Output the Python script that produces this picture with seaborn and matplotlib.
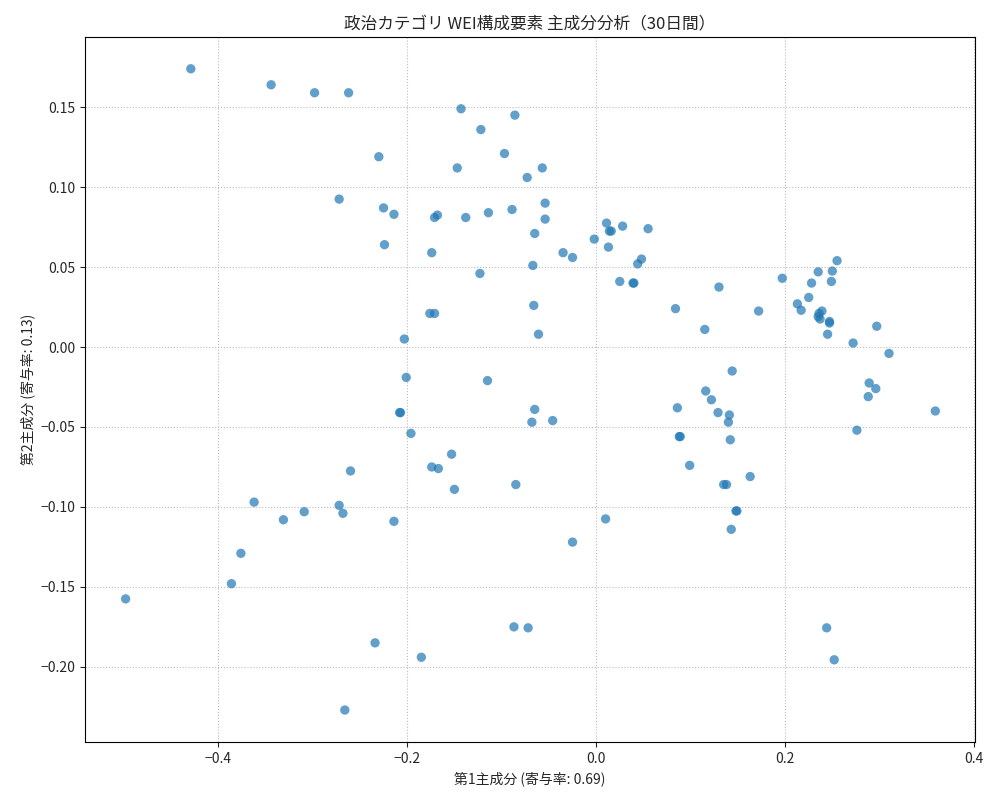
import matplotlib
matplotlib.use("Agg")
import matplotlib.pyplot as plt
import seaborn as sns
import pandas as pd

pc1 = [-0.429,-0.344,-0.298,-0.262,-0.143,-0.086,-0.122,-0.230,-0.097,-0.057,-0.147,-0.073,-0.272,-0.225,-0.214,-0.054,-0.054,-0.089,-0.168,-0.171,-0.138,-0.114,0.011,0.014,0.016,0.028,0.055,-0.065,-0.224,-0.174,-0.035,-0.025,-0.002,0.013,-0.067,-0.123,0.044,0.048,0.025,0.040,0.039,0.130,0.197,0.255,0.235,0.250,0.228,0.249,0.225,0.213,0.217,0.239,0.236,0.235,0.237,0.247,0.247,0.245,0.272,0.172,0.084,0.115,-0.066,-0.061,-0.176,-0.171,-0.203,0.297,0.310,0.144,0.116,0.122,0.129,0.141,0.140,0.086,0.088,0.089,0.142,0.099,0.163,0.135,0.138,0.149,0.148,0.143,0.289,0.296,0.288,0.359,0.276,0.010,-0.025,-0.201,-0.115,-0.208,-0.207,-0.065,-0.046,-0.068,-0.196,-0.153,-0.174,-0.167,-0.260,-0.150,-0.085,-0.362,-0.272,-0.268,-0.309,-0.331,-0.214,-0.376,-0.386,-0.498,-0.234,-0.185,-0.087,-0.072,0.244,0.252,-0.266]
pc2 = [0.174,0.164,0.159,0.159,0.149,0.145,0.136,0.119,0.121,0.112,0.112,0.106,0.0925,0.087,0.083,0.090,0.080,0.086,0.0825,0.081,0.081,0.084,0.0775,0.0725,0.0725,0.0756,0.074,0.071,0.064,0.059,0.059,0.056,0.0675,0.0625,0.051,0.046,0.052,0.055,0.041,0.040,0.040,0.0375,0.043,0.054,0.047,0.0475,0.040,0.041,0.031,0.027,0.023,0.0225,0.021,0.019,0.0175,0.016,0.015,0.008,0.0025,0.0225,0.024,0.011,0.026,0.008,0.021,0.021,0.005,0.013,-0.004,-0.015,-0.0275,-0.033,-0.041,-0.0425,-0.047,-0.038,-0.056,-0.056,-0.058,-0.074,-0.081,-0.086,-0.086,-0.1025,-0.1025,-0.114,-0.0225,-0.026,-0.031,-0.040,-0.052,-0.1075,-0.122,-0.019,-0.021,-0.041,-0.041,-0.039,-0.046,-0.047,-0.054,-0.067,-0.075,-0.076,-0.0775,-0.089,-0.086,-0.097,-0.099,-0.104,-0.103,-0.108,-0.109,-0.129,-0.148,-0.1575,-0.185,-0.194,-0.175,-0.1756,-0.1756,-0.1956,-0.227]

df = pd.DataFrame({"pc1": pc1, "pc2": pc2})
sns.set_style("white")
plt.rcParams['font.family'] = ['Noto Sans CJK JP', 'DejaVu Sans']
fig, ax = plt.subplots(figsize=(10, 8), dpi=100)
sns.scatterplot(data=df, x="pc1", y="pc2", ax=ax, color="#1f77b4", alpha=0.7, s=45, edgecolor="none")
ax.set_xlim(-0.541, 0.401)
ax.set_ylim(-0.247, 0.194)
ax.grid(True, linestyle=":", color="#bbbbbb")
ax.set_xlabel("第1主成分 (寄与率: 0.69)")
ax.set_ylabel("第2主成分 (寄与率: 0.13)")
ax.set_title("政治カテゴリ WEI構成要素 主成分分析（30日間）")
for s in ax.spines.values():
    s.set_color("black")
ax.tick_params(left=True, bottom=True)
plt.subplots_adjust(left=0.085, right=0.975, top=0.954, bottom=0.0725)
fig.savefig("out.png")
